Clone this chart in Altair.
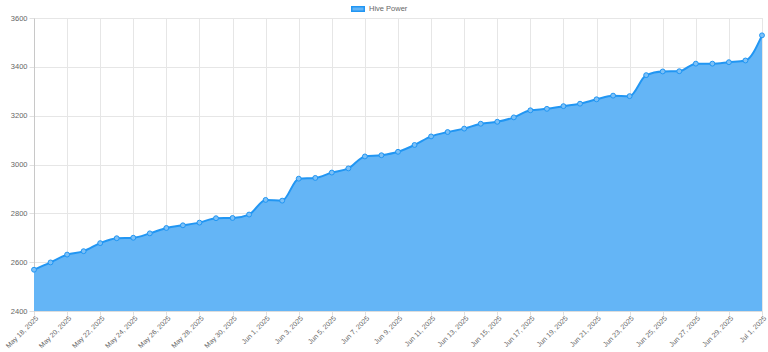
import altair as alt
import pandas as pd

start_date = "2025-05-18"
hive_power = [
    2569, 2599, 2631, 2645, 2678, 2698, 2700, 2718, 2740, 2751, 2762, 2780, 2781, 2795,
    2855, 2852, 2942, 2945, 2967, 2984, 3033, 3038, 3052, 3080, 3115, 3133, 3147, 3167,
    3175, 3193, 3222, 3228, 3239, 3249, 3267, 3282, 3280, 3366, 3381, 3382, 3413, 3413,
    3419, 3426, 3529,
]
series_name = "Hive Power"
y_ticks = [2400, 2600, 2800, 3000, 3200, 3400, 3600]
y_min, y_max = 2400, 3600

dates = pd.date_range(start_date, periods=len(hive_power), freq="D")
df = pd.DataFrame({
    "date": dates.strftime("%Y-%m-%d"),
    "value": hive_power,
    "series": series_name,
})
x_ticks = [int(d.value // 10**6) for d in dates[::2]]

FILL = "#64b5f6"
LINE = "#2196f3"

x_enc = alt.X(
    "date:T",
    scale=alt.Scale(type="utc", nice=False),
    axis=alt.Axis(
        values=x_ticks, labelExpr="utcFormat(datum.value, '%b %-d, %Y')",
        labelAngle=-45, labelAlign="right", labelBaseline="top",
        labelFontSize=7, labelColor="#666", labelPadding=-1,
        tickColor="#e0e0e0", tickSize=4, gridColor="#e6e6e6",
        domainColor="#dddddd", title=None, labelOverlap=False,
        labelFont="Liberation Sans", labelBound=False, labelFlush=False,
    ),
)
y_enc = alt.Y(
    "value:Q",
    scale=alt.Scale(domain=[y_min, y_max], nice=False, zero=False),
    axis=alt.Axis(
        values=y_ticks, format="d", labelFontSize=7.5, labelColor="#666",
        labelPadding=2, tickColor="#e0e0e0", tickSize=5, gridColor="#e6e6e6",
        domainColor="#c8c8c8", title=None, labelFont="Liberation Sans",
    ),
)

base = alt.Chart(df).encode(x=x_enc, y=y_enc)

area = base.mark_area(interpolate="monotone", opacity=1).encode(
    y2=alt.datum(y_min),
    fill=alt.Fill(
        "series:N",
        scale=alt.Scale(range=[FILL]),
        legend=alt.Legend(
            title=None, orient="none", legendX=317, legendY=-16,
            direction="horizontal",
            symbolType="M-1,-0.36H1V0.36H-1Z", symbolSize=156,
            symbolStrokeColor=LINE, symbolStrokeWidth=1.5, symbolOpacity=1,
            labelFontSize=7.5, labelColor="#666", labelFont="Liberation Sans",
            labelOffset=4,
        ),
    ),
)
line = base.mark_line(interpolate="monotone", color=LINE, strokeWidth=2)
pts = base.mark_point(filled=True, fill="#7cc0f7", stroke=LINE, strokeWidth=1,
                      size=24, opacity=1)

chart = alt.layer(area, line, pts).properties(
    width=728, height=293,
    autosize=alt.AutoSizeParams(type="none"),
    padding={"left": 34, "top": 18, "right": 6, "bottom": 41},
).configure_view(stroke=None).configure(background="white")

chart.save("out.html", embed_options={"renderer": "svg", "actions": False})
